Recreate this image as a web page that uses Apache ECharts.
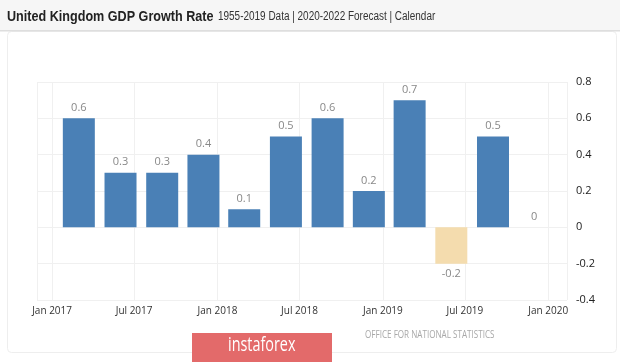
<!DOCTYPE html>
<html>
<head>
<meta charset="utf-8">
<script src="https://cdn.jsdelivr.net/npm/echarts@6/dist/echarts.min.js"></script>
<style>
html,body{margin:0;padding:0;background:#fff;}
#chart{width:620px;height:362px;}
</style>
</head>
<body>
<div id="chart"></div>
<script>
// Quarter dates (bars are placed at the start of each quarter's last month)
var quarterDates = ['2017-03-01','2017-06-01','2017-09-01','2017-12-01','2018-03-01','2018-06-01','2018-09-01','2018-12-01','2019-03-01','2019-06-01','2019-09-01','2019-12-01'];
var gdpGrowth = [0.6, 0.3, 0.3, 0.4, 0.1, 0.5, 0.6, 0.2, 0.7, -0.2, 0.5, 0];
var monthNames = ['Jan','Feb','Mar','Apr','May','Jun','Jul','Aug','Sep','Oct','Nov','Dec'];
var titleText = 'United Kingdom GDP Growth Rate';
var subtitleText = '1955-2019 Data | 2020-2022 Forecast | Calendar';
var sourceText = 'OFFICE FOR NATIONAL STATISTICS';
var watermarkText = 'instaforex';

var POS = '#4a80b6', NEG = '#f4dcae';
var seriesData = quarterDates.map(function(d, i){
  var v = gdpGrowth[i];
  return {
    value: [d, v],
    itemStyle: {color: v < 0 ? NEG : POS},
    label: {position: v < 0 ? 'bottom' : 'top'}
  };
});

var chart = echarts.init(document.getElementById('chart'), null, {renderer:'canvas'});
chart.setOption({
  animation: false,
  backgroundColor: '#fff',
  graphic: [
    {type:'rect', z:-1, shape:{x:7.5,y:31.5,width:609,height:321,r:4}, style:{fill:'#fff', stroke:'#eeeeee', lineWidth:1}},
    {type:'rect', z:0, shape:{x:0,y:0,width:620,height:31}, style:{fill:'#f6f6f6'}},
    {type:'rect', z:0, shape:{x:0,y:30,width:620,height:1.5}, style:{fill:'#dedede'}},
    {type:'text', z:1, x:7, y:9, scaleX:0.84, style:{text:titleText, fill:'#222', font:'bold 15px "Liberation Sans", Arial, sans-serif'}},
    {type:'text', z:1, x:218, y:11, scaleX:0.83, style:{text:subtitleText, fill:'#333', font:'12px "Liberation Sans", Arial, sans-serif'}},
    {type:'text', z:1, x:365, y:330, scaleX:0.81, style:{text:sourceText, fill:'#a8a8a8', font:'10px "Open Sans", sans-serif'}},
    {type:'rect', z:2, shape:{x:192,y:333,width:140,height:29}, style:{fill:'#e36a6a'}},
    {type:'text', z:3, x:228, y:335, scaleX:0.72, style:{text:watermarkText, fill:'#fff', font:'20px "Open Sans", sans-serif'}}
  ],
  grid: {left:37, right:53, top:82, bottom:62, containLabel:false},
  xAxis: {
    type: 'time',
    min: '2017-01-03',
    max: '2020-01-07',
    splitNumber: 6,
    axisLine: {show:false},
    axisTick: {show:false},
    splitLine: {show:true, lineStyle:{color:'#f0f0f0', width:1}},
    axisLabel: {
      color:'#333', fontSize:10, fontFamily:'"Open Sans", sans-serif', margin:6,
      showMinLabel:false, showMaxLabel:false,
      formatter: function(val){ var d = new Date(val); return monthNames[d.getMonth()] + ' ' + d.getFullYear(); }
    }
  },
  yAxis: {
    type: 'value',
    position: 'right',
    min: -0.4, max: 0.8, interval: 0.2,
    axisLine: {show:false},
    axisTick: {show:false},
    splitLine: {show:true, lineStyle:{color:'#f0f0f0', width:1}},
    axisLabel: {color:'#222', fontSize:11, fontFamily:'"Open Sans", sans-serif', margin:9,
      formatter: function(v){ return String(Math.round(v*10)/10); }}
  },
  series: [{
    type: 'bar',
    barWidth: 32,
    data: seriesData,
    label: {show:true, color:'#888', fontSize:11, fontFamily:'"Open Sans", sans-serif', distance:5,
      formatter: function(p){ return String(p.value[1]); }}
  }]
});
</script>
</body>
</html>
